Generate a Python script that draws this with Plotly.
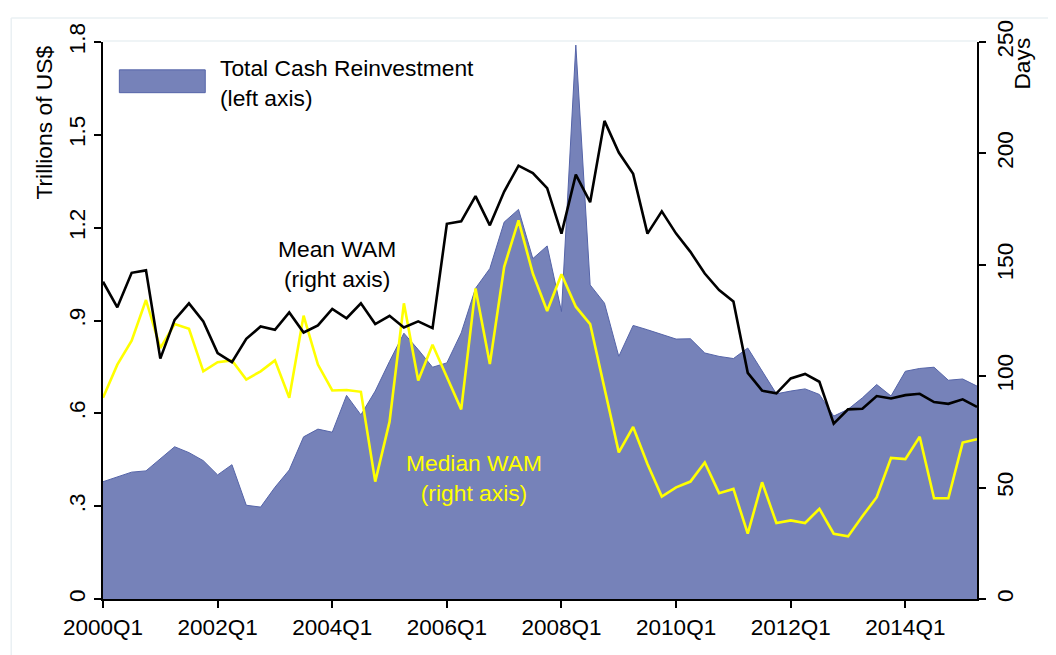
import plotly.graph_objects as go

# ---------------- data ----------------
quarters = [f"{y}Q{q}" for y in range(2000, 2016) for q in range(1, 5)][:62]

cash_reinvestment = [0.379, 0.395, 0.41, 0.414, 0.454, 0.492, 0.473, 0.447, 0.401, 0.434,
                     0.303, 0.297, 0.361, 0.417, 0.524, 0.549, 0.539, 0.658, 0.595, 0.672,
                     0.768, 0.859, 0.806, 0.749, 0.763, 0.86, 1.004, 1.068, 1.218, 1.259,
                     1.10, 1.141, 0.929, 1.79, 1.015, 0.956, 0.784, 0.884, 0.87, 0.854,
                     0.84, 0.841, 0.795, 0.784, 0.777, 0.811, 0.735, 0.663, 0.672, 0.679,
                     0.661, 0.591, 0.613, 0.65, 0.693, 0.656, 0.736, 0.745, 0.749, 0.707,
                     0.711, 0.688]

mean_wam = [142.4, 130.9, 146.4, 147.5, 107.9, 125.3, 132.7, 124.6, 110.4, 106.3,
            116.8, 122.3, 120.8, 128.6, 119.6, 122.8, 130.2, 126.0, 132.7, 123.4,
            127.1, 121.9, 124.6, 121.6, 168.4, 169.5, 180.8, 167.7, 182.9, 194.5,
            191.2, 184.4, 164.0, 190.5, 178.1, 214.6, 200.4, 190.8, 164.0, 174.0,
            164.0, 155.8, 146.1, 138.7, 133.5, 101.5, 93.5, 92.3, 99.0, 101.0,
            97.5, 78.7, 85.1, 85.4, 91.1, 90.0, 91.5, 92.1, 88.4, 87.6,
            89.6, 86.2]

median_wam = [90.3, 105.2, 115.9, 134.2, 112.6, 123.4, 121.3, 102.2, 106.3, 107.1,
              98.5, 102.2, 107.1, 90.3, 127.2, 105.2, 93.6, 93.8, 93.0, 52.7,
              79.6, 132.7, 98.1, 114.1, 99.6, 85.1, 139.4, 105.5, 149.1, 169.9,
              146.1, 129.3, 145.8, 131.2, 123.4, 94.8, 65.8, 77.2, 60.6, 46.0,
              50.1, 52.7, 61.3, 47.5, 49.4, 29.3, 52.4, 34.1, 35.3, 34.1,
              40.5, 29.3, 28.1, 37.1, 45.7, 63.3, 62.8, 72.8, 45.2, 45.2,
              70.2, 71.7]

x_ticks = ["2000Q1", "2002Q1", "2004Q1", "2006Q1", "2008Q1", "2010Q1", "2012Q1", "2014Q1"]
left_tickvals = [0, 0.3, 0.6, 0.9, 1.2, 1.5, 1.8]
left_ticktext = ["0", ".3", ".6", ".9", "1.2", "1.5", "1.8"]
right_tickvals = [0, 50, 100, 150, 200, 250]

# ---------------- style ----------------
FONT = "Liberation Sans, Arial, Helvetica, sans-serif"
FILL = "rgb(118,130,185)"
EDGE = "rgb(85,100,168)"
FRAME = "rgb(234,240,243)"

fig = go.Figure()
fig.add_trace(go.Scatter(x=quarters, y=cash_reinvestment, mode="lines", fill="tozeroy",
                         fillcolor=FILL, line=dict(color=EDGE, width=1),
                         name="Total Cash Reinvestment (left axis)", showlegend=False))
fig.add_trace(go.Scatter(x=quarters, y=median_wam, mode="lines", yaxis="y2",
                         line=dict(color="#ffff00", width=2.6), name="Median WAM", showlegend=False))
fig.add_trace(go.Scatter(x=quarters, y=mean_wam, mode="lines", yaxis="y2",
                         line=dict(color="black", width=2.6), name="Mean WAM", showlegend=False))

axis_common = dict(showgrid=False, zeroline=False, showline=True, linecolor="black", linewidth=2,
                   ticks="outside", ticklen=7, tickwidth=2, tickcolor="black",
                   tickfont=dict(family=FONT, size=22.5, color="black"))

fig.update_layout(
    width=1056, height=655,
    margin=dict(l=95, r=87, t=31, b=64),
    paper_bgcolor="white", plot_bgcolor="white",
    font=dict(family=FONT, color="black"),
    xaxis=dict(type="category", range=[0, 61], tickmode="array", tickvals=x_ticks,
               ticktext=x_ticks, **axis_common),
    yaxis=dict(range=[0, 1.8], tickmode="array", tickvals=left_tickvals, ticktext=left_ticktext,
               tickangle=-90, **axis_common),
    yaxis2=dict(range=[0, 250], tickmode="array", tickvals=right_tickvals, overlaying="y",
                side="right", tickangle=-90, **axis_common),
)

# frame lines (graph region / plot region borders)
fig.add_shape(type="line", xref="paper", yref="paper", x0=-0.105, x1=1.1, y0=1.043, y1=1.043,
              line=dict(color=FRAME, width=1.5), layer="below")
fig.add_shape(type="line", xref="paper", yref="paper", x0=-0.105, x1=-0.105, y0=-0.12, y1=1.043,
              line=dict(color=FRAME, width=1.5), layer="below")
fig.add_shape(type="line", xref="paper", yref="paper", x0=0, x1=1, y0=1.002, y1=1.002,
              line=dict(color=FRAME, width=1.5), layer="below")

# manual legend
fig.add_shape(type="rect", xref="paper", yref="paper", x0=0.0187, x1=0.117, y0=0.909, y1=0.95,
              fillcolor=FILL, line=dict(color=EDGE, width=1))

def ann(text, x, y, color="black", xanchor="center", size=22.8, angle=0, yanchor="middle", align="center"):
    fig.add_annotation(text=text, x=x, y=y, xref="paper", yref="paper", showarrow=False,
                       xanchor=xanchor, yanchor=yanchor, textangle=angle, align=align,
                       font=dict(family=FONT, size=size, color=color))

ann("Total Cash Reinvestment<br>(left axis)", 0.132, 0.926, xanchor="left", align="left")
ann("Mean WAM<br>(right axis)", 0.2677, 0.601)
ann("Median WAM<br>(right axis)", 0.4243, 0.218, color="#ffff00")

# axis titles
ann("Trillions of US$", -0.067, 0.998, angle=-90, yanchor="top")
ann("Days", 1.0518, 1.012, angle=-90, yanchor="top")

fig.write_html("out.html")
